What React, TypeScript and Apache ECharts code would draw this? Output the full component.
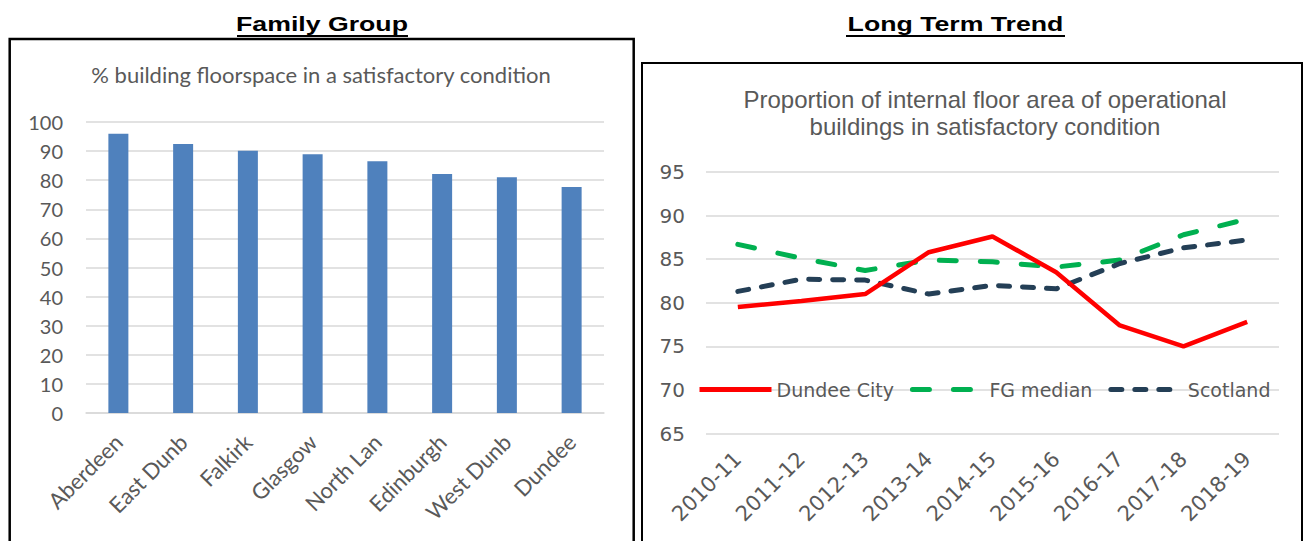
import React, { useEffect, useRef } from "react";
import * as echarts from "echarts";

const fgCategories = ["Aberdeen", "East Dunb", "Falkirk", "Glasgow", "North Lan", "Edinburgh", "West Dunb", "Dundee"];
const fgValues = [96.0, 92.4, 90.1, 88.9, 86.5, 82.1, 81.0, 77.7];

const years = ["2010-11", "2011-12", "2012-13", "2013-14", "2014-15", "2015-16", "2016-17", "2017-18", "2018-19"];
const dundeeCity = [79.5, 80.2, 81.0, 85.8, 87.6, 83.5, 77.4, 75.0, 77.8];
const fgMedian = [86.7, 85.1, 83.7, 84.9, 84.7, 84.1, 84.9, 87.8, 89.6];
const scotland = [81.3, 82.7, 82.6, 81.0, 82.0, 81.6, 84.5, 86.3, 87.2];

const leftTicks = { min: 0, max: 100, interval: 10 };
const rightTicks = { min: 65, max: 95, interval: 5 };

const GRAY = "#595959";
const GRID = "#d9d9d9";

function txt(text: string, x: number, y: number, font: any, extra: any = {}) {
  return {
    type: "text",
    x,
    y,
    ...extra,
    style: {
      text,
      fill: font.color || GRAY,
      fontSize: font.size,
      fontFamily: font.family,
      fontWeight: font.weight || "normal",
      align: "center",
      verticalAlign: "middle",
      textAlign: "center",
      textVerticalAlign: "middle",
    },
  };
}

export default function App() {
  const ref = useRef<HTMLDivElement>(null);
  useEffect(() => {
    document.body.style.margin = "0";
    const chart = echarts.init(ref.current!, null, { renderer: "svg" });
    const option: any = {
      animation: false,
      backgroundColor: "#ffffff",
      graphic: [
        txt("Family Group", 322, 24, { size: 21, family: "Liberation Sans", weight: "bold", color: "#000" }, { scaleX: 1.27 }),
        { type: "line", shape: { x1: 237, y1: 36, x2: 408, y2: 36 }, style: { stroke: "#000", lineWidth: 2 } },
        txt("Long Term Trend", 955.5, 24, { size: 21, family: "Liberation Sans", weight: "bold", color: "#000" }, { scaleX: 1.27 }),
        { type: "line", shape: { x1: 846, y1: 36, x2: 1065, y2: 36 }, style: { stroke: "#000", lineWidth: 2 } },
        { type: "rect", shape: { x: 9.7, y: 39, width: 624, height: 560 }, style: { fill: "none", stroke: "#000", lineWidth: 2.5 } },
        { type: "rect", shape: { x: 642, y: 63, width: 660, height: 560 }, style: { fill: "none", stroke: "#000", lineWidth: 2 } },
        txt("% building floorspace in a satisfactory condition", 321, 74, { size: 22, family: "Lato" }),
        txt("Proportion of internal floor area of operational", 985, 99, { size: 24, family: "Liberation Sans" }),
        txt("buildings in satisfactory condition", 985, 126, { size: 24, family: "Liberation Sans" }),
      ],
      grid: [
        { left: 86, right: 705, top: 122, bottom: 128 },
        { left: 706, right: 30, top: 172, bottom: 107.5 },
      ],
      xAxis: [
        {
          type: "category",
          gridIndex: 0,
          data: fgCategories,
          axisLine: { lineStyle: { color: GRID, width: 1.5 } },
          axisTick: { show: false },
          axisLabel: { rotate: 45, margin: 25, color: GRAY, fontFamily: "Lato", fontSize: 22 },
        },
        {
          type: "category",
          gridIndex: 1,
          data: years,
          boundaryGap: true,
          axisLine: { show: false },
          axisTick: { show: false },
          axisLabel: { rotate: 45, margin: 22, color: GRAY, fontFamily: "DejaVu Sans", fontSize: 21 },
        },
      ],
      yAxis: [
        {
          type: "value",
          gridIndex: 0,
          ...leftTicks,
          axisLine: { show: false },
          axisTick: { show: false },
          splitLine: { lineStyle: { color: GRID, width: 1.5 } },
          axisLabel: { margin: 23, color: GRAY, fontFamily: "Lato", fontSize: 20 },
        },
        {
          type: "value",
          gridIndex: 1,
          ...rightTicks,
          axisLine: { show: false },
          axisTick: { show: false },
          splitLine: { lineStyle: { color: GRID, width: 1.5 } },
          axisLabel: { margin: 21, color: GRAY, fontFamily: "DejaVu Sans", fontSize: 20 },
        },
      ],
      legend: {
        left: 697,
        top: 380,
        padding: 0,
        itemWidth: 72,
        itemHeight: 14,
        itemGap: 16,
        lineStyle: { width: 5 },
        itemStyle: { opacity: 0 },
        textStyle: { color: GRAY, fontFamily: "DejaVu Sans", fontSize: 19 },
        data: ["Dundee City", "FG median", "Scotland"],
      },
      series: [
        {
          type: "bar",
          xAxisIndex: 0,
          yAxisIndex: 0,
          data: fgValues,
          barWidth: 20,
          itemStyle: { color: "#4f81bd" },
        },
        {
          name: "Dundee City",
          type: "line",
          xAxisIndex: 1,
          yAxisIndex: 1,
          data: dundeeCity,
          symbol: "none",
          z: 4,
          color: "#ff0000",
          lineStyle: { color: "#ff0000", width: 4.5 },
        },
        {
          name: "FG median",
          type: "line",
          xAxisIndex: 1,
          yAxisIndex: 1,
          data: fgMedian,
          symbol: "none",
          z: 3,
          color: "#00b050",
          lineStyle: { color: "#00b050", width: 5, type: [17, 24], cap: "round" },
        },
        {
          name: "Scotland",
          type: "line",
          xAxisIndex: 1,
          yAxisIndex: 1,
          data: scotland,
          symbol: "none",
          z: 3,
          color: "#243f56",
          lineStyle: { color: "#243f56", width: 5, type: [11, 13], cap: "round" },
        },
      ],
    };
    chart.setOption(option);
    return () => chart.dispose();
  }, []);
  return <div ref={ref} style={{ position: "fixed", left: 0, top: 0, width: 1309, height: 541 }} />;
}
